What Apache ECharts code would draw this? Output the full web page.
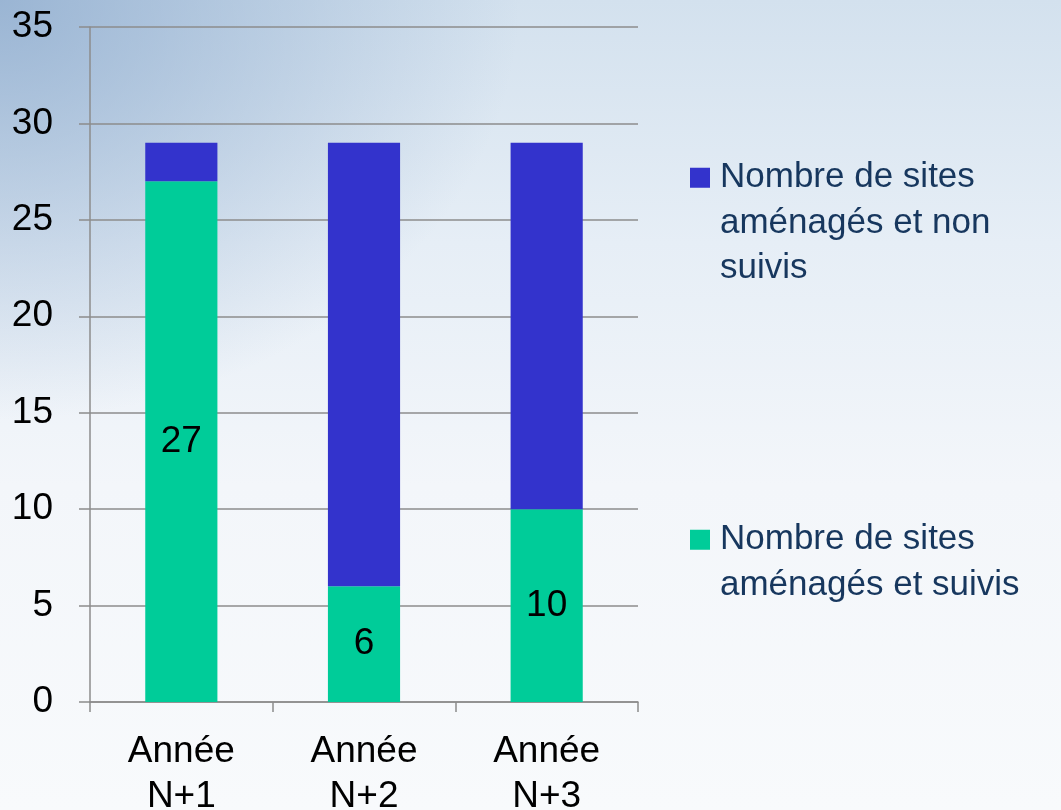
<!DOCTYPE html>
<html>
<head>
<meta charset="utf-8">
<script src="https://cdn.jsdelivr.net/npm/echarts@6/dist/echarts.min.js"></script>
<style>
html,body{margin:0;padding:0;}
#c{width:1061px;height:810px;
background:
 radial-gradient(ellipse 520px 420px at 0px 0px, rgba(140,170,205,0.8), rgba(140,170,205,0) 100%),
 linear-gradient(180deg, #d3e1ee 0%, #e6eef6 30%, #f3f6fa 60%, #f8fafc 100%);}
</style>
</head>
<body>
<div id="c"></div>
<script>
var categories = ['Année\nN+1', 'Année\nN+2', 'Année\nN+3'];
var suivis = [27, 6, 10];
var nonSuivis = [2, 23, 19];
var seriesNames = ['Nombre de sites\naménagés et suivis', 'Nombre de sites\naménagés et non\nsuivis'];
var yTicks = [0, 5, 10, 15, 20, 25, 30, 35];

var FONT = '"Liberation Sans", Arial, sans-serif';
var chart = echarts.init(document.getElementById('c'));
var LH = 45.5;
var legendText = {fontFamily: FONT, fontSize: 35, color: '#17375E', lineHeight: LH, padding: [0, 0, 0, 5]};
chart.setOption({
  backgroundColor: 'transparent',
  animation: false,
  textStyle: {fontFamily: FONT},
  grid: {left: 90, right: 423, top: 27, bottom: 108, outerBoundsMode: 'none', containLabel: false},
  legend: [
    {
      data: [seriesNames[1]], orient: 'vertical', left: 685, top: 150, padding: 5,
      icon: 'path://M0,0L20,0L20,20L0,20Z M0,111L0.01,111', itemWidth: 20, itemHeight: 111,
      textStyle: legendText
    },
    {
      data: [seriesNames[0]], orient: 'vertical', left: 685, top: 512, padding: 5,
      icon: 'path://M0,0L20,0L20,20L0,20Z M0,65.5L0.01,65.5', itemWidth: 20, itemHeight: 65.5,
      textStyle: legendText
    }
  ],
  xAxis: {
    type: 'category', data: categories,
    axisLine: {lineStyle: {color: '#8c8c8c', width: 1.5}},
    axisTick: {show: true, length: 10, lineStyle: {color: '#8c8c8c', width: 1.5}},
    axisLabel: {fontFamily: FONT, fontSize: 37, color: '#000', lineHeight: LH, margin: 27}
  },
  yAxis: {
    type: 'value', min: 0, max: 35, interval: 5,
    axisLine: {show: true, lineStyle: {color: '#8c8c8c', width: 1.5}},
    axisTick: {show: true, length: 11, lineStyle: {color: '#8c8c8c', width: 1.5}},
    splitLine: {lineStyle: {color: '#8c8c8c', width: 1.5}},
    axisLabel: {fontFamily: FONT, fontSize: 37, color: '#000', margin: 37,
      formatter: function (v) { return yTicks.indexOf(v) >= 0 ? String(v) : ''; }}
  },
  series: [
    {
      name: seriesNames[0], type: 'bar', stack: 'a', data: suivis, barWidth: '39.5%',
      itemStyle: {color: '#00CC99'},
      label: {show: true, position: 'inside', fontFamily: FONT, fontSize: 37, color: '#000'}
    },
    {
      name: seriesNames[1], type: 'bar', stack: 'a', data: nonSuivis, barWidth: '39.5%',
      itemStyle: {color: '#3333CC'}
    }
  ]
});
</script>
</body>
</html>
